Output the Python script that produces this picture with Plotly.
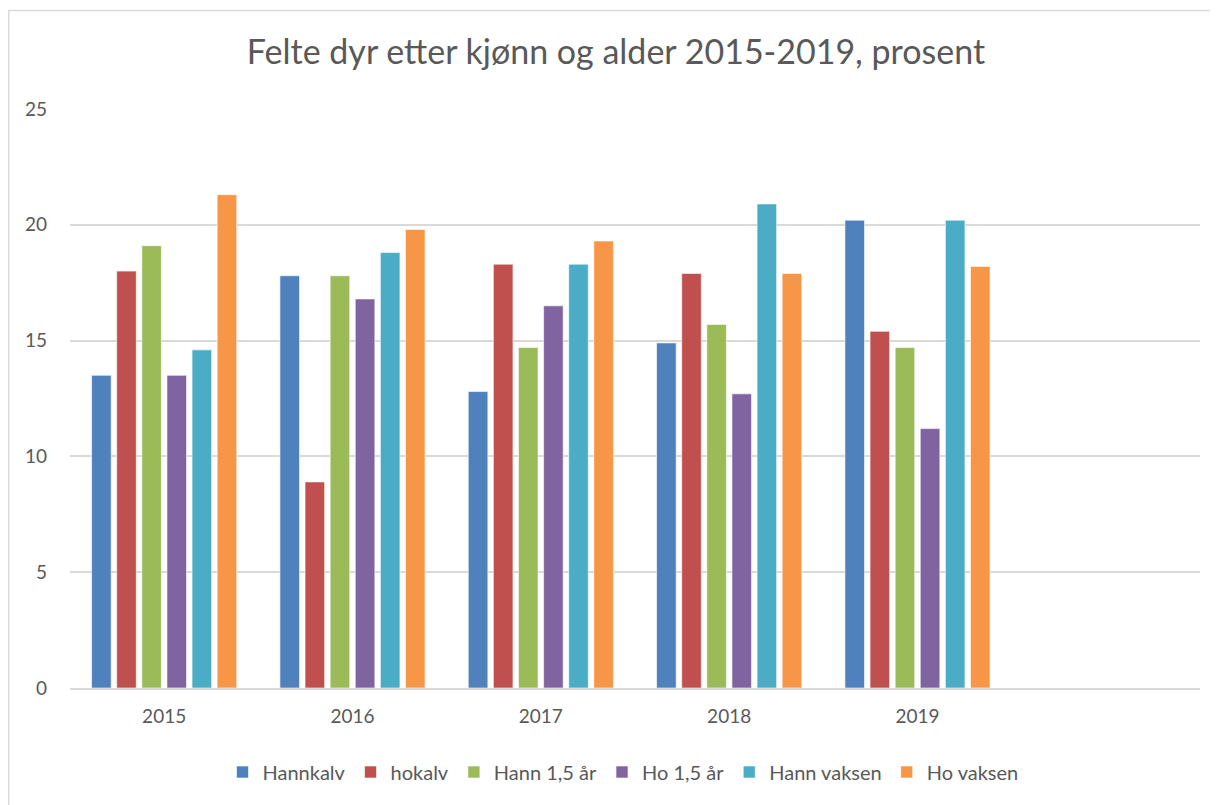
import plotly.graph_objects as go

years = ["2015", "2016", "2017", "2018", "2019", " "]
series_names = ["Hannkalv", "hokalv", "Hann 1,5 år", "Ho 1,5 år", "Hann vaksen", "Ho vaksen"]
hannkalv = [13.5, 17.8, 12.8, 14.9, 20.2, None]
hokalv = [18.0, 8.9, 18.3, 17.9, 15.4, None]
hann_15 = [19.1, 17.8, 14.7, 15.7, 14.7, None]
ho_15 = [13.5, 16.8, 16.5, 12.7, 11.2, None]
hann_vaksen = [14.6, 18.8, 18.3, 20.9, 20.2, None]
ho_vaksen = [21.3, 19.8, 19.3, 17.9, 18.2, None]
colors = ["#4F81BD", "#C0504D", "#9BBB59", "#8064A2", "#4BACC6", "#F79646"]

values = [hannkalv, hokalv, hann_15, ho_15, hann_vaksen, ho_vaksen]

FONT = "Lato"
W, H = 1210, 797
L, R, T, B = 62, 18, 101, 117
PW, PH = W - L - R, H - T - B

fig = go.Figure()
for name, vals, col in zip(series_names, values, colors):
    fig.add_trace(go.Bar(
        name=name, x=years, y=vals,
        marker=dict(color=col, line=dict(color="rgba(255,255,255,0.6)", width=1)),
    ))

fig.update_layout(
    width=W, height=H,
    paper_bgcolor="white", plot_bgcolor="white",
    margin=dict(l=L, r=R, t=T, b=B),
    barmode="group", bargap=0.2, bargroupgap=0.22,
    title=dict(text="Felte dyr etter kjønn og alder 2015-2019, prosent",
               x=(616 - 8 - L) / PW, xanchor="center", xref="paper",
               y=(H - 44) / H, yanchor="middle",
               font=dict(family=FONT, size=34, color="#595959")),
    font=dict(family=FONT, color="#595959"),
    legend=dict(orientation="h", x=(623 - 8 - L) / PW, xanchor="center",
                y=-(764 - (H - B)) / PH, yanchor="middle",
                font=dict(family=FONT, size=20, color="#595959"),
                itemwidth=30, traceorder="normal"),
    showlegend=True,
    shapes=[dict(type="rect", xref="paper", yref="paper",
                 x0=(0.7 - L) / PW, x1=(1240 - L) / PW,
                 y0=-(830 - (H - B)) / PH, y1=((H - B) - 2.5) / PH,
                 line=dict(color="#D9D9D9", width=1.5), fillcolor="rgba(0,0,0,0)", layer="below")],
)
fig.update_xaxes(type="category", showgrid=False, showline=True, linecolor="#D9D9D9", linewidth=1.5,
                 ticks="", tickfont=dict(family=FONT, size=19, color="#595959"), ticklabelstandoff=10)
fig.update_yaxes(range=[0, 25], dtick=5, showgrid=True, gridcolor="#D9D9D9", gridwidth=1.5,
                 zeroline=False, showline=False, ticks="",
                 tickfont=dict(family=FONT, size=19, color="#595959"), ticklabelstandoff=22)

fig.write_html("out.html")
